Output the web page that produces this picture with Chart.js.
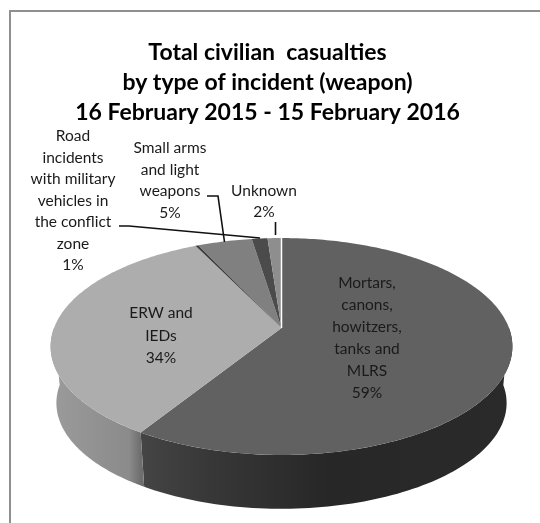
<!DOCTYPE html>
<html><head><meta charset="utf-8">
<style>html,body{margin:0;padding:0;background:#fff}canvas{display:block}</style>
<script src="https://cdn.jsdelivr.net/npm/chart.js@4"></script>
</head><body><canvas id="c" width="540" height="523"></canvas>
<script>
const titleLines = ["Total civilian  casualties","by type of incident (weapon)","16 February 2015 - 15 February 2016"];
const categories = ["Mortars, canons, howitzers, tanks and MLRS","ERW and IEDs","Other","Small arms and light weapons","Road incidents with military vehicles in the conflict zone","Unknown"];
const shares = [59,34,0.25,4.5,1.3,1.15];
const topColors = ["#616161","#adadad","#3d3d3d","#808080","#4b4b4b","#8e8e8e"];

// 3D view of the pie: perspective projection of the unit circle
const view = {cx:281.5, cy:328, a:105.3, b:227.5, k:0.1705, depth:57, shrink:0.975};
function project(angle, low){
  const u=Math.cos(angle), v=Math.sin(angle), w=1-view.k*v, s=low?view.shrink:1;
  return [view.cx+s*view.b*u/w, view.cy+s*view.a*v/w+(low?view.depth:0)];
}
function sideFill(ctx,i){
  const g=ctx.createLinearGradient(50,0,515,0);
  if(i===0){
    g.addColorStop(0.19,"#454545");g.addColorStop(0.35,"#373737");g.addColorStop(0.6,"#272727");g.addColorStop(1,"#2a2a2a");
  } else {
    g.addColorStop(0,"#9b9b9b");g.addColorStop(0.17,"#8b8b8b");g.addColorStop(0.195,"#6e6e6e");
  }
  return g;
}
const labelBlocks = [
  {lines:["Mortars,","canons,","howitzers,","tanks and","MLRS","59%"],x:367,y:283,dy:22},
  {lines:["ERW and","IEDs","34%"],x:161,y:313,dy:22.5},
  {lines:["Small arms","and light","weapons","5%"],x:170,y:148,dy:21.7},
  {lines:["Road","incidents","with military","vehicles in","the conflict","zone","1%"],x:73,y:136,dy:21.5},
  {lines:["Unknown","2%"],x:264,y:191,dy:21}
];
const leaders = [
  [[207,196],[218,196],[224.5,242]],
  [[119,226],[129,226],[260,238]],
  [[275.5,222],[275.5,235]]
];
const pie3d = {
  id:"pie3d",
  beforeDraw(chart){
    const c=chart.ctx;
    c.save();c.fillStyle="#fff";c.fillRect(0,0,540,523);
    c.strokeStyle="#8f8f8f";c.lineWidth=2;
    c.beginPath();c.moveTo(10,523);c.lineTo(10,11);c.lineTo(540,11);c.stroke();c.restore();
  },
  beforeDatasetsDraw(chart){
    const c=chart.ctx, arcs=chart.getDatasetMeta(0).data;
    c.save();
    arcs.forEach((arc,i)=>{
      const a0=Math.max(arc.startAngle,0), a1=Math.min(arc.endAngle,Math.PI);
      if(a1<=a0) return;
      c.beginPath();
      const n=90;
      for(let j=0;j<=n;j++){const p=project(a0+(a1-a0)*j/n,false);j?c.lineTo(p[0],p[1]):c.moveTo(p[0],p[1]);}
      for(let j=n;j>=0;j--){const p=project(a0+(a1-a0)*j/n,true);c.lineTo(p[0],p[1]);}
      c.closePath();c.fillStyle=sideFill(c,i);c.fill();
    });
    arcs.forEach((arc,i)=>{
      c.beginPath();c.moveTo(view.cx,view.cy);
      const n=Math.max(4,Math.ceil((arc.endAngle-arc.startAngle)*60));
      for(let j=0;j<=n;j++){const p=project(arc.startAngle+(arc.endAngle-arc.startAngle)*j/n,false);c.lineTo(p[0],p[1]);}
      c.closePath();c.fillStyle=arc.options.backgroundColor;c.fill();
    });
    const t=project(-Math.PI/2,false);
    c.strokeStyle="#fff";c.lineWidth=1.5;
    c.beginPath();c.moveTo(view.cx,view.cy);c.lineTo(t[0],t[1]);c.stroke();
    c.restore();
    return false;
  },
  afterDraw(chart){
    const c=chart.ctx;
    c.save();
    c.strokeStyle="#111";c.lineWidth=1.6;
    leaders.forEach(l=>{c.beginPath();l.forEach((p,i)=>i?c.lineTo(p[0],p[1]):c.moveTo(p[0],p[1]));c.stroke();});
    c.fillStyle="#1a1a1a";c.font="15.5px Lato";c.textAlign="center";c.textBaseline="middle";
    labelBlocks.forEach(b=>b.lines.forEach((s,i)=>c.fillText(s,b.x,b.y+i*b.dy)));
    c.restore();
  }
};
new Chart(document.getElementById("c"),{
  type:"pie",
  data:{labels:categories,datasets:[{data:shares,backgroundColor:topColors,borderWidth:0}]},
  plugins:[pie3d],
  options:{
    responsive:false,animation:false,devicePixelRatio:1,
    layout:{padding:{top:38,left:0,right:5}},
    plugins:{
      legend:{display:false},tooltip:{enabled:false},
      title:{display:true,text:titleLines,color:"#000",padding:0,font:{family:"Lato",weight:"bold",size:23,lineHeight:1.3}}
    }
  }
});
</script></body></html>
